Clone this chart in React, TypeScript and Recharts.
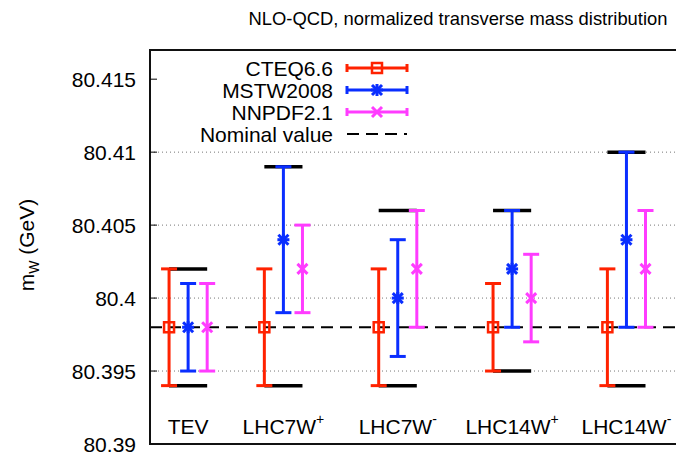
import React from 'react';
import { ScatterChart, Scatter, XAxis, YAxis, CartesianGrid, ReferenceLine, ErrorBar } from 'recharts';

const CATEGORIES = ['TEV', 'LHC7W', 'LHC7W', 'LHC14W', 'LHC14W'];
const SUPERSCRIPTS = ['', '+', '-', '+', '-'];
const POSITIONS = [2, 7, 13, 19, 25];
const OFFSET = 1;

const CTEQ_VALUES = [80.398, 80.398, 80.398, 80.398, 80.398];
const CTEQ_LOW = [80.394, 80.394, 80.394, 80.395, 80.394];
const CTEQ_HIGH = [80.402, 80.402, 80.402, 80.401, 80.402];

const MSTW_VALUES = [80.398, 80.404, 80.4, 80.402, 80.404];
const MSTW_LOW = [80.395, 80.399, 80.396, 80.398, 80.398];
const MSTW_HIGH = [80.401, 80.409, 80.404, 80.406, 80.41];

const NNPDF_VALUES = [80.398, 80.402, 80.402, 80.4, 80.402];
const NNPDF_LOW = [80.395, 80.399, 80.398, 80.397, 80.398];
const NNPDF_HIGH = [80.401, 80.405, 80.406, 80.403, 80.406];

// black bars: total spread per observable
const ENVELOPE_HIGH = [80.402, 80.409, 80.406, 80.406, 80.41];
const ENVELOPE_LOW = [80.394, 80.394, 80.394, 80.395, 80.394];

const NOMINAL = 80.398;
const Y_MIN = 80.39;
const Y_MAX = 80.417;
const X_MAX = 27.6;
const Y_TICKS = [80.39, 80.395, 80.4, 80.405, 80.41, 80.415];
const Y_TICK_LABELS = ['80.39', '80.395', '80.4', '80.405', '80.41', '80.415'];
const GRID_VALUES = [80.395, 80.4, 80.405, 80.41];

const FONT = '"Liberation Sans", Arial, Helvetica, sans-serif';

type Marker = 'square' | 'star' | 'cross';

const SERIES: { name: string; color: string; values: number[]; low: number[]; high: number[]; shift: number; marker: Marker }[] = [
  { name: 'CTEQ6.6', color: '#ff2200', values: CTEQ_VALUES, low: CTEQ_LOW, high: CTEQ_HIGH, shift: -OFFSET, marker: 'square' },
  { name: 'MSTW2008', color: '#0a2eff', values: MSTW_VALUES, low: MSTW_LOW, high: MSTW_HIGH, shift: 0, marker: 'star' },
  { name: 'NNPDF2.1', color: '#ff3cff', values: NNPDF_VALUES, low: NNPDF_LOW, high: NNPDF_HIGH, shift: OFFSET, marker: 'cross' },
];

const pointsFor = (s: typeof SERIES[number]) =>
  s.values.map((v, i) => ({ x: POSITIONS[i] + s.shift, y: v, err: [v - s.low[i], s.high[i] - v] }));

const envelopeData = [
  ...ENVELOPE_HIGH.map((v, i) => ({ x: POSITIONS[i], y: v, dx: OFFSET })),
  ...ENVELOPE_LOW.map((v, i) => ({ x: POSITIONS[i], y: v, dx: OFFSET })),
];

const MarkerGlyph = ({ cx, cy, kind, color }: { cx: number; cy: number; kind: Marker; color: string }) => {
  if (kind === 'square') {
    return <rect x={cx - 5} y={cy - 5} width={10} height={10} fill="none" stroke={color} strokeWidth={2.5} />;
  }
  const r = 5;
  return (
    <g stroke={color} strokeWidth={3}>
      <line x1={cx - r} y1={cy - r} x2={cx + r} y2={cy + r} />
      <line x1={cx - r} y1={cy + r} x2={cx + r} y2={cy - r} />
      {kind === 'star' && <line x1={cx - r - 1} y1={cy} x2={cx + r + 1} y2={cy} />}
      {kind === 'star' && <line x1={cx} y1={cy - r - 1} x2={cx} y2={cy + r + 1} />}
    </g>
  );
};

const ValueTick = (props: any) => {
  const { x, y, index } = props;
  return (
    <g>
      <line x1={x + 14} x2={x + 21} y1={y} y2={y} stroke="#000" strokeWidth={1} />
      <text x={x} y={y} dy="0.36em" textAnchor="end" fontSize={21} fill="#000" fontFamily={FONT}>
        {Y_TICK_LABELS[index]}
      </text>
    </g>
  );
};

const CategoryTick = (props: any) => {
  const { x, index } = props;
  return (
    <text x={x} y={434} textAnchor="middle" fontSize={21} fill="#000" fontFamily={FONT}>
      {CATEGORIES[index]}
      {SUPERSCRIPTS[index] && (
        <tspan dy={-10} fontSize={14}>{SUPERSCRIPTS[index]}</tspan>
      )}
    </text>
  );
};

const LegendBox = () => {
  const rows = [...SERIES.map(s => s.name), 'Nominal value'];
  return (
    <g fontFamily={FONT} fontSize={21}>
      {rows.map((name, i) => {
        const y = 68 + i * 22;
        const s = SERIES[i];
        return (
          <g key={name}>
            <text x={333} y={y} dy="0.36em" textAnchor="end" fill="#000">{name}</text>
            {s ? (
              <g>
                <line x1={347} x2={407} y1={y} y2={y} stroke={s.color} strokeWidth={3} />
                <line x1={347} x2={347} y1={y - 4} y2={y + 4} stroke={s.color} strokeWidth={3} />
                <line x1={407} x2={407} y1={y - 4} y2={y + 4} stroke={s.color} strokeWidth={3} />
                <MarkerGlyph cx={377} cy={y} kind={s.marker} color={s.color} />
              </g>
            ) : (
              <line x1={347} x2={407} y1={y} y2={y} stroke="#000" strokeWidth={2} strokeDasharray="12 7" />
            )}
          </g>
        );
      })}
    </g>
  );
};

const App: React.FC = () => {
  return (
    <div style={{ position: 'absolute', left: 0, top: 0, width: 676, height: 454, background: '#fff', fontFamily: FONT }}>
      <ScatterChart width={676} height={454} margin={{ top: 50, right: 0, bottom: 0, left: 0 }}>
        <CartesianGrid vertical={false} horizontalValues={GRID_VALUES} stroke="#777" strokeDasharray="1 3" />
        <XAxis
          type="number"
          dataKey="x"
          domain={[0, X_MAX]}
          ticks={POSITIONS}
          interval={0}
          height={10}
          tickSize={0}
          tickMargin={0}
          tickLine={false}
          tick={<CategoryTick />}
          axisLine={false}
          allowDataOverflow
        />
        <YAxis
          type="number"
          dataKey="y"
          domain={[Y_MIN, Y_MAX]}
          ticks={Y_TICKS}
          interval={0}
          width={150}
          tickSize={0}
          tickMargin={14}
          tickLine={false}
          tick={<ValueTick />}
          axisLine={{ stroke: '#111', strokeWidth: 2 }}
          allowDataOverflow
        />
        <ReferenceLine y={NOMINAL} stroke="#000" strokeWidth={2} strokeDasharray="12 7" />
        <Scatter data={envelopeData} isAnimationActive={false} shape={() => <g />}>
          <ErrorBar dataKey="dx" direction="x" width={0} stroke="#000" strokeWidth={3.5} isAnimationActive={false} />
        </Scatter>
        {SERIES.map(s => (
          <Scatter
            key={s.name}
            name={s.name}
            data={pointsFor(s)}
            isAnimationActive={false}
            shape={(p: any) => <MarkerGlyph cx={p.cx} cy={p.cy} kind={s.marker} color={s.color} />}
          >
            <ErrorBar dataKey="err" direction="y" width={8} stroke={s.color} strokeWidth={3} isAnimationActive={false} />
          </Scatter>
        ))}
      </ScatterChart>
      <svg width={676} height={454} style={{ position: 'absolute', left: 0, top: 0, pointerEvents: 'none' }}>
        {/* plot frame, top and bottom */}
        <rect x={149} y={49} width={527} height={2} fill="#111" />
        <rect x={149} y={443} width={527} height={2} fill="#111" />
        <text x={458} y={25} textAnchor="middle" fontSize={18.4} fill="#000" fontFamily={FONT}>
          NLO-QCD, normalized transverse mass distribution
        </text>
        <text transform="translate(34,245) rotate(-90)" textAnchor="middle" fontSize={21} fill="#000" fontFamily={FONT}>
          m<tspan dy={5} fontSize={14}>W</tspan><tspan dy={-5} fontSize={21}> (GeV)</tspan>
        </text>
        <LegendBox />
      </svg>
    </div>
  );
};

export default App;
